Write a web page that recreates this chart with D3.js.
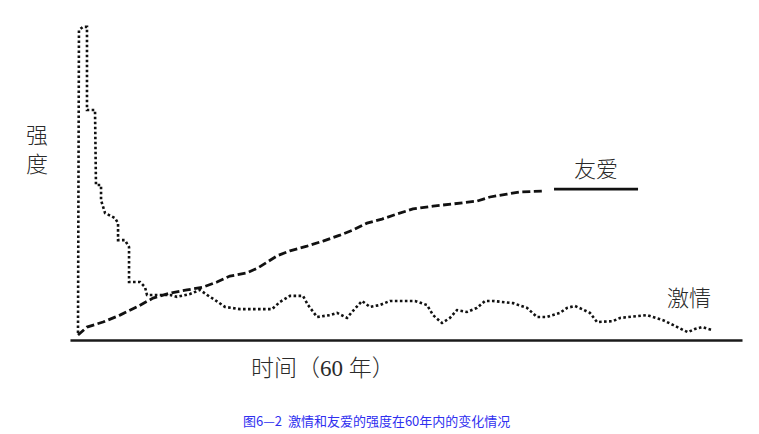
<!DOCTYPE html>
<html><head><meta charset="utf-8">
<script src="https://cdn.jsdelivr.net/npm/d3@7/dist/d3.min.js"></script>
<style>
html,body{margin:0;padding:0;background:#fff;}
svg{display:block;}
</style></head>
<body>
<svg id="chart" width="759" height="434"></svg>
<script>
// Time in years (0–60), intensity 0–100
const passionT = [0,0.09,0.47,0.85,0.85,1.61,1.70,2.18,2.18,2.56,3.50,3.79,3.79,4.45,4.83,4.83,5.87,6.34,6.53,8.71,9.37,10.60,11.55,12.21,12.96,13.91,15.33,18.36,19.12,20.06,21.29,21.77,22.62,23.85,24.51,25.46,25.93,26.88,27.63,28.58,29.53,31.89,33.03,33.60,34.45,35.20,35.87,36.81,37.76,38.52,39.27,41.17,42.49,43.44,44.38,45.61,46.28,47.03,47.70,48.45,49.12,50.63,51.29,53.85,54.41,55.36,56.30,57.25,57.72,58.38,59.05,60];
const passionV = [2.2,98.4,99.4,99.4,73.0,73.0,49.2,49.2,44.4,40.3,38.7,37.1,31.7,31.7,29.5,18.4,18.4,16.8,14.3,14.3,13.7,14.6,15.9,14.3,12.7,10.5,9.8,9.8,12.1,14.0,14.0,11.1,7.3,7.9,8.6,7.0,8.9,12.4,10.5,11.1,12.4,12.4,11.1,7.9,5.4,7.0,9.5,8.9,10.2,12.4,12.4,11.7,10.2,7.3,7.3,8.6,10.2,10.8,9.8,8.6,5.7,6.0,7.0,7.9,7.3,6.3,4.8,3.2,2.5,3.5,4.1,3.2];
const loveT = [0,0.85,2.37,3.97,5.58,7.10,8.71,10.32,11.83,13.15,14.38,15.99,17.03,18.83,20.06,21.67,23.19,24.79,26.02,27.35,28.77,30.19,31.70,33.60,35.49,37.76,38.99,40.60,41.83,44.19];
const loveV = [1.6,4.1,5.7,7.9,10.5,13.3,14.9,15.9,16.8,18.4,20.3,21.3,22.9,26.7,28.3,29.8,31.4,33.3,34.9,37.1,38.4,40.0,41.6,42.5,43.2,44.1,45.4,46.3,47.0,47.3];
const loveTailT = [45.05,53.0];
const loveTailV = [47.9,47.9];
const axisExtent = [-0.76, 62.84];
const seriesLabels = ["友爱","激情"];
const yLabel = ["强","度"];
const xLabel = "时间（60 年）";
const caption = "图6—2  激情和友爱的强度在60年内的变化情况";

const svg = d3.select("#chart");
const x = d3.scaleLinear().domain([0,60]).range([78,712]);
const y = d3.scaleLinear().domain([0,100]).range([340,25]);

const zip = (a,b)=>a.map((t,i)=>[t,b[i]]);
const line = d3.line().x(d=>x(d[0])).y(d=>y(d[1]));

// baseline axis (no ticks)
const axisScale = d3.scaleLinear().domain(axisExtent).range(axisExtent.map(x));
svg.append("g").attr("transform",`translate(0,${y(0)})`)
  .call(d3.axisBottom(axisScale).tickValues([]).tickSizeOuter(0))
  .call(g=>g.select(".domain").attr("stroke","#1a1a1a").attr("stroke-width",2.6));

// passion (dotted)
svg.append("path").datum(zip(passionT,passionV)).attr("d",line)
  .attr("fill","none").attr("stroke","#111").attr("stroke-width",2.6)
  .attr("stroke-dasharray","2.6,2.4");

// love (dashed)
svg.append("path").datum(zip(loveT,loveV)).attr("d",line)
  .attr("fill","none").attr("stroke","#111").attr("stroke-width",2.8)
  .attr("stroke-dasharray","8,3.5");
svg.append("path").datum(zip(loveTailT,loveTailV)).attr("d",line)
  .attr("fill","none").attr("stroke","#111").attr("stroke-width",2.8);

const font = "'Liberation Serif','Noto Sans CJK SC',serif";
const txt = (s,px,py,size,anchor,fill)=>svg.append("text").attr("x",px).attr("y",py)
  .attr("font-family",font).attr("font-size",size).attr("font-weight",300)
  .attr("text-anchor",anchor||"start").attr("fill",fill||"#2a2a2a").text(s);

txt(seriesLabels[0],574,177,22);
txt(seriesLabels[1],667,306,22);
txt(yLabel[0],26,143,22);
txt(yLabel[1],26,172,22);
txt(xLabel,251,376,23);
svg.append("text").attr("x",243).attr("y",426)
  .attr("font-family","'Noto Sans CJK SC',sans-serif").attr("font-size",13)
  .attr("fill","#3030f0").attr("xml:space","preserve").style("white-space","pre").text(caption);
</script>
</body></html>
